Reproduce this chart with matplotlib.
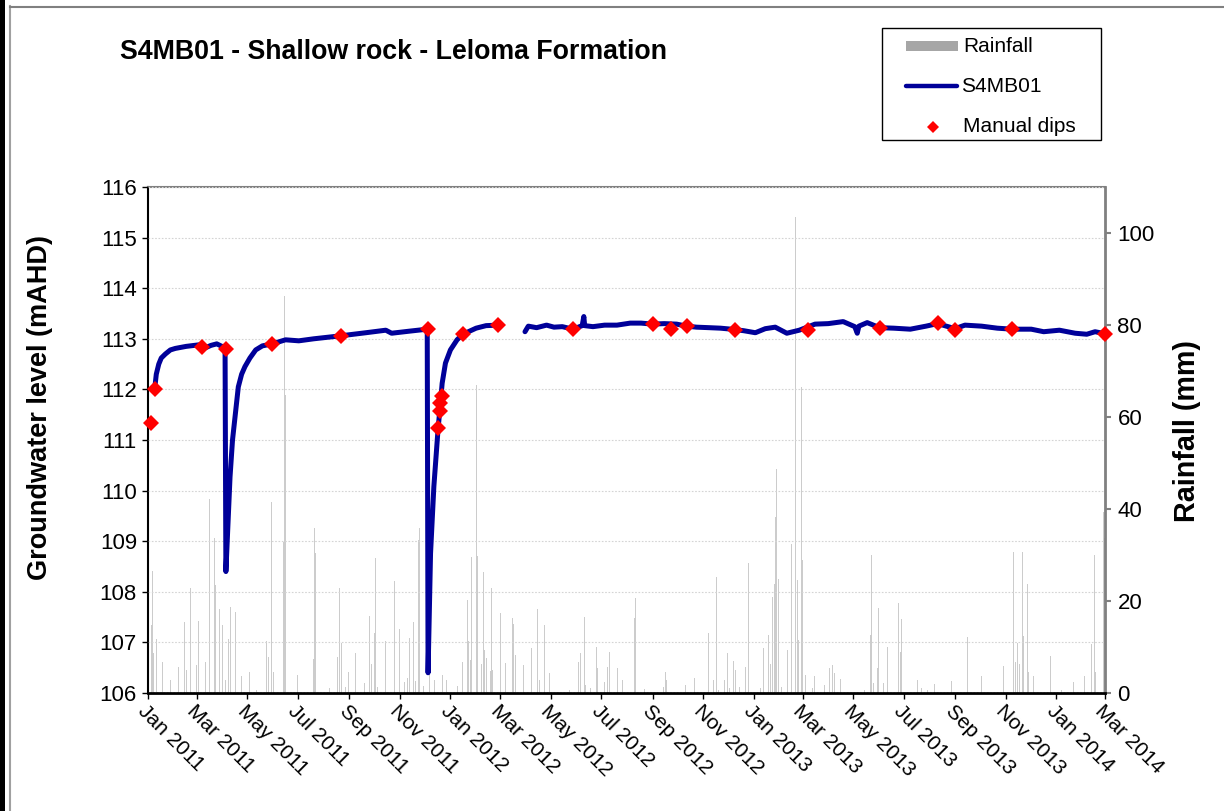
import numpy as np
import pandas as pd
import matplotlib
matplotlib.use("Agg")
import matplotlib.pyplot as plt
import matplotlib.dates as mdates
from matplotlib.patches import Rectangle
from matplotlib.lines import Line2D

plt.rcParams['font.family'] = ['Liberation Sans', 'DejaVu Sans']

# ---------------- data ----------------
title = "S4MB01 - Shallow rock - Leloma Formation"
left_label = "Groundwater level (mAHD)"
right_label = "Rainfall (mm)"
legend_labels = ["Rainfall", "S4MB01", "Manual dips"]

level_dates = [
    "2011-01-09", "2011-01-11", "2011-01-14", "2011-01-17", "2011-01-22", "2011-01-28",
    "2011-02-03", "2011-02-16", "2011-03-03", "2011-03-07", "2011-03-11", "2011-03-18",
    "2011-03-25", "2011-03-30", "2011-04-03", "2011-04-04", "2011-04-05", "2011-04-10",
    "2011-04-13", "2011-04-16", "2011-04-20", "2011-04-24", "2011-04-28", "2011-05-04",
    "2011-05-11", "2011-05-19", "2011-05-31", "2011-06-16", "2011-07-02", "2011-07-20",
    "2011-08-11", "2011-08-22", "2011-09-21", "2011-10-15", "2011-10-22", "2011-11-12",
    "2011-12-04", "2011-12-05", "2011-12-08", "2011-12-12", "2011-12-17", "2011-12-20",
    "2011-12-22", "2011-12-26", "2012-01-01", "2012-01-09", "2012-01-16", "2012-02-01",
    "2012-02-13", "2012-02-27", "2012-03-15",
    "2012-03-31", "2012-04-04", "2012-04-14", "2012-04-26", "2012-05-05", "2012-05-15",
    "2012-05-28", "2012-06-08", "2012-06-10", "2012-06-11", "2012-06-21", "2012-07-05",
    "2012-07-20", "2012-08-05", "2012-08-18", "2012-09-01", "2012-09-15", "2012-09-30",
    "2012-10-12", "2012-10-24", "2012-11-08", "2012-11-22", "2012-12-05", "2012-12-20",
    "2013-01-03", "2013-01-15", "2013-01-27", "2013-02-10", "2013-02-25", "2013-03-16",
    "2013-04-01", "2013-04-19", "2013-05-03", "2013-05-06", "2013-05-08", "2013-05-18",
    "2013-06-02", "2013-06-19", "2013-07-09", "2013-07-28", "2013-08-11", "2013-09-01",
    "2013-09-13", "2013-10-03", "2013-10-22", "2013-11-09", "2013-12-02", "2013-12-17",
    "2014-01-05", "2014-01-24", "2014-02-07", "2014-02-17", "2014-03-01",
]
level_values = [
    112.00, 112.30, 112.50, 112.62, 112.70, 112.78,
    112.81, 112.85, 112.88, 112.84, 112.82, 112.87,
    112.90, 112.86, 112.83, 112.80, 108.40, 110.27,
    111.00, 111.45, 112.05, 112.30, 112.45, 112.62,
    112.78, 112.86, 112.90, 112.98, 112.96, 113.00,
    113.04, 113.06, 113.12, 113.17, 113.11, 113.15,
    113.19, 106.40, 108.76, 110.08, 111.20, 111.74,
    112.12, 112.52, 112.78, 112.98, 113.09, 113.21,
    113.26, 113.27, np.nan,
    113.14, 113.25, 113.22, 113.27, 113.23, 113.24,
    113.19, 113.26, 113.44, 113.26, 113.24, 113.27,
    113.27, 113.31, 113.31, 113.29, 113.30, 113.29,
    113.25, 113.23, 113.22, 113.21, 113.19, 113.16,
    113.12, 113.20, 113.23, 113.11, 113.17, 113.29,
    113.30, 113.34, 113.24, 113.11, 113.25, 113.32,
    113.22, 113.21, 113.19, 113.25, 113.30, 113.20,
    113.27, 113.25, 113.21, 113.19, 113.19, 113.14,
    113.17, 113.11, 113.09, 113.14, 113.10,
]

dip_dates = [
    "2011-01-05", "2011-01-09", "2011-03-07", "2011-04-05", "2011-05-31", "2011-08-22",
    "2011-12-05", "2011-12-17", "2011-12-19", "2011-12-20", "2011-12-22", "2012-01-16",
    "2012-02-27", "2012-05-28", "2012-09-01", "2012-09-23", "2012-10-12", "2012-12-09",
    "2013-03-08", "2013-06-02", "2013-08-11", "2013-09-01", "2013-11-09", "2014-03-01",
]
dip_values = [
    111.33, 112.01, 112.84, 112.79, 112.90, 113.06,
    113.19, 111.23, 111.58, 111.74, 111.86, 113.09,
    113.27, 113.19, 113.29, 113.20, 113.25, 113.17,
    113.17, 113.21, 113.31, 113.17, 113.19, 113.10,
]

rain_dates = [
    "2011-01-05", "2011-01-06", "2011-01-08", "2011-01-11", "2011-01-19", "2011-01-28",
    "2011-02-07", "2011-02-14", "2011-02-16", "2011-02-21", "2011-02-28", "2011-03-03",
    "2011-03-11", "2011-03-16", "2011-03-22", "2011-03-23", "2011-03-28", "2011-04-01",
    "2011-04-04", "2011-04-08", "2011-04-11", "2011-04-16", "2011-04-17", "2011-04-24",
    "2011-05-03", "2011-05-12", "2011-05-24", "2011-05-26", "2011-05-30", "2011-06-01",
    "2011-06-13", "2011-06-15", "2011-06-16", "2011-06-30", "2011-07-20", "2011-07-21",
    "2011-07-22", "2011-08-08", "2011-08-18", "2011-08-20", "2011-08-22", "2011-08-27",
    "2011-08-31", "2011-09-08", "2011-09-19", "2011-09-25", "2011-09-28", "2011-10-01",
    "2011-10-03", "2011-10-05", "2011-10-15", "2011-10-26", "2011-10-31", "2011-11-07",
    "2011-11-10", "2011-11-13", "2011-11-17", "2011-11-18", "2011-11-20", "2011-11-23",
    "2011-11-24", "2011-11-25", "2011-11-30", "2011-12-07", "2011-12-13", "2011-12-23",
    "2011-12-27", "2012-01-09", "2012-01-15", "2012-01-22", "2012-01-23", "2012-01-25",
    "2012-01-26", "2012-02-01", "2012-02-02", "2012-02-03", "2012-02-07", "2012-02-10",
    "2012-02-11", "2012-02-13", "2012-02-18", "2012-02-20", "2012-02-21", "2012-03-02",
    "2012-03-07", "2012-03-16", "2012-03-17", "2012-03-19", "2012-03-29", "2012-04-08",
    "2012-04-15", "2012-04-17", "2012-04-24", "2012-04-29", "2012-05-24", "2012-06-03",
    "2012-06-06", "2012-06-11", "2012-06-12", "2012-06-18", "2012-06-25", "2012-06-27",
    "2012-07-05", "2012-07-08", "2012-07-11", "2012-07-21", "2012-07-27", "2012-08-10",
    "2012-08-11", "2012-08-22", "2012-09-14", "2012-09-17", "2012-09-18", "2012-10-11",
    "2012-10-22", "2012-11-08", "2012-11-13", "2012-11-17", "2012-11-20", "2012-11-27",
    "2012-11-30", "2012-12-03", "2012-12-08", "2012-12-10", "2012-12-15", "2012-12-22",
    "2012-12-26", "2013-01-09", "2013-01-13", "2013-01-19", "2013-01-21", "2013-01-24",
    "2013-01-26", "2013-01-27", "2013-01-28", "2013-01-31", "2013-02-03", "2013-02-11",
    "2013-02-16", "2013-02-21", "2013-02-23", "2013-02-24", "2013-02-28", "2013-03-01",
    "2013-03-04", "2013-03-13", "2013-03-15", "2013-03-28", "2013-04-03", "2013-04-06",
    "2013-04-09", "2013-04-16", "2013-04-20", "2013-05-15", "2013-05-22", "2013-05-23",
    "2013-05-26", "2013-05-31", "2013-06-01", "2013-06-07", "2013-06-11", "2013-06-12",
    "2013-06-25", "2013-06-27", "2013-06-28", "2013-07-18", "2013-07-23", "2013-07-30",
    "2013-08-07", "2013-08-28", "2013-09-16", "2013-10-03", "2013-10-12", "2013-10-29",
    "2013-11-10", "2013-11-11", "2013-11-13", "2013-11-15", "2013-11-16", "2013-11-18",
    "2013-11-22", "2013-11-23", "2013-11-28", "2013-11-29", "2013-12-05", "2013-12-25",
    "2014-01-07", "2014-01-22", "2014-02-04", "2014-02-13", "2014-02-16", "2014-02-18",
    "2014-02-27", "2014-02-28",
]
rain_mm = [
    14.8, 26.6, 8.6, 11.7, 6.8, 2.8,
    5.7, 15.5, 5.0, 22.9, 6.0, 15.7,
    6.8, 42.2, 33.6, 23.5, 18.2, 14.8,
    2.8, 11.7, 18.6, 6.4, 17.7, 3.6,
    4.6, 0.7, 11.3, 7.9, 41.6, 4.6,
    32.9, 86.3, 64.8, 3.9, 7.5, 35.8,
    30.4, 1.0, 7.9, 22.9, 10.8, 1.4,
    4.6, 8.6, 2.1, 16.7, 6.4, 13.1,
    29.3, 1.4, 11.3, 24.3, 13.9, 2.5,
    3.2, 12.0, 15.5, 5.4, 2.7, 14.4,
    33.3, 35.9, 1.5, 5.7, 2.8, 3.9,
    2.8, 1.5, 6.8, 20.2, 11.4, 7.2,
    29.5, 63.8, 67.0, 29.8, 6.4, 26.4,
    9.3, 7.7, 4.8, 22.9, 5.0, 17.3,
    6.6, 16.2, 15.1, 8.3, 6.1, 9.7,
    18.3, 2.8, 14.8, 4.4, 0.7, 6.8,
    8.6, 16.6, 1.7, 1.0, 9.9, 5.4,
    2.5, 5.7, 9.0, 5.4, 2.8, 16.2,
    20.6, 0.8, 1.4, 4.6, 2.8, 1.7,
    3.3, 13.0, 2.8, 25.3, 0.7, 2.8,
    8.8, 1.0, 6.9, 5.0, 1.4, 5.7,
    28.2, 1.0, 9.7, 12.6, 6.4, 20.9,
    23.8, 38.3, 48.6, 24.8, 1.2, 9.3,
    32.4, 103.4, 24.6, 11.5, 66.6, 28.9,
    3.9, 1.0, 3.6, 1.7, 5.4, 6.1,
    4.4, 3.0, 24.9, 0.7, 12.6, 30.1,
    2.2, 5.4, 18.4, 2.1, 9.9, 9.9,
    19.5, 9.0, 16.1, 2.8, 1.0, 0.7,
    1.9, 2.7, 12.2, 3.6, 2.2, 5.9,
    30.7, 11.3, 6.8, 10.9, 17.7, 6.4,
    30.7, 12.5, 23.8, 4.6, 3.6, 8.0,
    0.7, 2.5, 3.6, 10.6, 30.1, 4.6,
    39.4, 33.8,
]

x_start, x_end = "2011-01-01", "2014-03-01"
level_limits = (106, 116)
level_ticks = list(range(106, 117))
rain_limits = (0, 110)
rain_ticks = [0, 20, 40, 60, 80, 100]

# ---------------- styling ----------------
W, H = 1224, 811
LINE_C = '#000099'
DIP_C = '#FF0000'
RAIN_C = '#a6a6a6'
RAIN_BAR_C = '#cccccc'

fig = plt.figure(figsize=(W / 100, H / 100), dpi=100)
fig.patch.set_facecolor('white')

def fx(px):
    return px / W

def fy(py):
    return 1 - py / H

# outer frame decorations
fig.add_artist(Rectangle((0, 0), fx(5), 1, transform=fig.transFigure,
                         facecolor='black', edgecolor='none'))
fig.add_artist(Line2D([fx(9.5), fx(9.5)], [0, fy(6)], transform=fig.transFigure,
                      color='#a0a0a0', lw=1.5))
fig.add_artist(Line2D([fx(9.5), 1], [fy(6.5), fy(6.5)], transform=fig.transFigure,
                      color='#808080', lw=1.5))

ax = fig.add_axes([fx(148), fy(693), (1105 - 148) / W, (693 - 187) / H])
ax2 = ax.twinx()

rd = pd.to_datetime(rain_dates)
ax2.bar(rd, rain_mm, width=1.2, color=RAIN_BAR_C, linewidth=0, align='center')

ax.set_zorder(ax2.get_zorder() + 1)
ax.patch.set_visible(False)

ax.plot(pd.to_datetime(level_dates), level_values, color=LINE_C, lw=3.6,
        solid_capstyle='round', solid_joinstyle='round', zorder=3)
ax.plot(pd.to_datetime(dip_dates), dip_values, linestyle='none', marker='D',
        color=DIP_C, markersize=8, markeredgewidth=0, clip_on=False, zorder=4)

ax.set_xlim(pd.Timestamp(x_start), pd.Timestamp(x_end))
ax.set_ylim(*level_limits)
ax.set_yticks(level_ticks)
ax2.set_ylim(*rain_limits)
ax2.set_yticks(rain_ticks)

ax.xaxis.set_major_locator(mdates.MonthLocator(bymonth=[1, 3, 5, 7, 9, 11]))
ax.xaxis.set_major_formatter(mdates.DateFormatter('%b %Y'))

ax.yaxis.grid(True, linestyle=(0, (1.5, 1.5)), color='#d4d4d4', lw=0.8)
ax.set_axisbelow(False)

for s in ['left', 'bottom']:
    ax.spines[s].set_color('black')
ax.spines['left'].set_linewidth(1.5)
ax.spines['bottom'].set_linewidth(2.0)
ax.spines['top'].set_color('#808080')
ax.spines['top'].set_linewidth(1.5)
ax.spines['right'].set_visible(False)
for s in ['left', 'top', 'bottom']:
    ax2.spines[s].set_visible(False)
ax2.spines['right'].set_color('#808080')
ax2.spines['right'].set_linewidth(2.0)

ax.tick_params(axis='both', direction='out', length=4, width=1, colors='black')
ax.tick_params(axis='y', pad=4, labelsize=16)
ax.tick_params(axis='x', pad=2, labelsize=15)
ax2.tick_params(axis='y', direction='out', length=4, width=1.5, color='#808080',
                labelcolor='black', labelsize=16, pad=5)

for lbl in ax.get_xticklabels():
    lbl.set_rotation(-45)
    lbl.set_ha('left')
    lbl.set_va('top')
    lbl.set_rotation_mode('anchor')

# titles and labels
fig.text(fx(120), fy(52), title, fontsize=19.3, fontweight='bold', ha='left', va='center')
fig.text(fx(40), fy(408), left_label, rotation=90, fontsize=19.5, fontweight='bold',
         ha='center', va='center')
fig.text(fx(1187), fy(431), right_label, rotation=90, fontsize=20.7, fontweight='bold',
         ha='center', va='center')

# legend (drawn in figure pixel positions)
fig.add_artist(Rectangle((fx(882), fy(140)), (1101 - 882) / W, (140 - 28) / H,
                         transform=fig.transFigure, facecolor='white',
                         edgecolor='black', lw=1.0))
fig.add_artist(Rectangle((fx(906), fy(51)), (958 - 906) / W, 10 / H,
                         transform=fig.transFigure, facecolor=RAIN_C, edgecolor='none'))
fig.add_artist(Line2D([fx(906), fx(957)], [fy(86), fy(86)], transform=fig.transFigure,
                      color=LINE_C, lw=3.2, solid_capstyle='round'))
fig.add_artist(Line2D([fx(933)], [fy(127)], transform=fig.transFigure, marker='D',
                      color=DIP_C, markersize=6.5, markeredgewidth=0, linestyle='none'))
for lab, py, px in zip(legend_labels, [46, 87, 127], [963, 961, 963]):
    fig.text(fx(px), fy(py), lab, fontsize=15, ha='left', va='center')

fig.savefig('out.png', dpi=100, facecolor='white')
